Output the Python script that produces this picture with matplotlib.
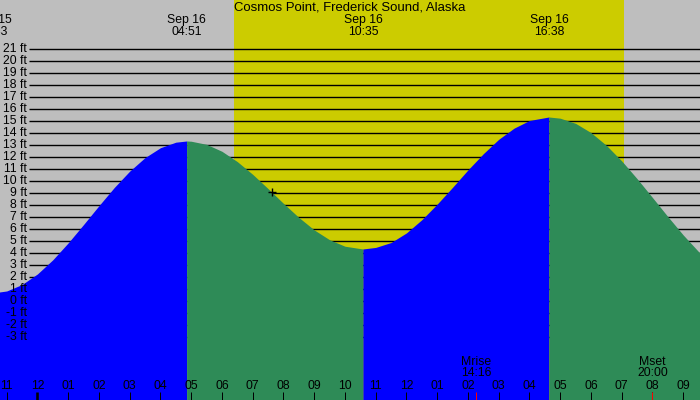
import matplotlib
matplotlib.use("Agg")
from matplotlib import pyplot as plt
import matplotlib.transforms as mtransforms

plt.rcParams['font.family'] = ['Liberation Sans', 'DejaVu Sans']

# tide extremes (hours after Sep 16 00:00), heights in ft
extreme_hours = [-1.45, 4.85, 10.583, 16.633, 23.6]
extreme_ft = [0.7, 13.36, 4.36, 15.36, 1.2]
extreme_dates = ["Sep 15", "Sep 16", "Sep 16", "Sep 16"]
extreme_times = ["22:33", "04:51", "10:35", "16:38"]

# tide height every half hour
sample_hours = [-1.5, -1.0, -0.5, 0.0, 0.5, 1.0, 1.5, 2.0, 2.5, 3.0, 3.5, 4.0, 4.5,
                5.0, 5.5, 6.0, 6.5, 7.0, 7.5, 8.0, 8.5, 9.0, 9.5, 10.0,
                11.0, 11.5, 12.0, 12.5, 13.0, 13.5, 14.0, 14.5, 15.0, 15.5, 16.0,
                17.0, 17.5, 18.0, 18.5, 19.0, 19.5, 20.0, 20.5, 21.0, 21.5, 22.0]
sample_ft = [0.71, 0.86, 1.40, 2.28, 3.46, 4.87, 6.40, 7.97, 9.49, 10.85, 11.98, 12.80, 13.26,
             13.34, 13.08, 12.50, 11.64, 10.58, 9.39, 8.16, 6.99, 5.95, 5.13, 4.59,
             4.49, 4.90, 5.70, 6.80, 8.10, 9.50, 10.95, 12.30, 13.50, 14.43, 15.07,
             15.26, 14.83, 14.06, 13.00, 11.70, 10.22, 8.65, 7.06, 5.53, 4.14, 2.97]

sunrise_hour = 6.38
sunset_hour = 19.09
now_hour, now_ft = 7.636, 9.08

moon_events = ["Mrise", "Mset"]
moon_hours = [14.267, 20.0]
moon_times = ["14:16", "20:00"]

hour_ticks = list(range(-1, 22))
hour_labels = ["%02d" % ((h % 12) or 12) for h in hour_ticks]
ft_levels = list(range(-3, 22))

title = "Cosmos Point, Frederick Sound, Alaska"

# layout: 30.75 px per hour, 12 px per ft
px_hour = 30.75
x_left = -1.218
x_right = x_left + 700 / px_hour
y_bottom, y_top = -8.225, 25.11

fig = plt.figure(figsize=(7, 4), dpi=100)
fig.patch.set_facecolor('#bebebe')
ax = fig.add_axes([0, 0, 1, 1])
ax.axis('off')
ax.set_xlim(x_left, x_right)
ax.set_ylim(y_bottom, y_top)

ax.axvspan(sunrise_hour, sunset_hour, color='#cccc00', lw=0, zorder=1)
ax.hlines(ft_levels, x_left + 29 / px_hour, x_right, color='black', lw=1, zorder=2)

# merge samples with the extremes and fill each rise / fall in its colour
pts = sorted(zip(sample_hours + extreme_hours, sample_ft + extreme_ft))
for i in range(len(extreme_hours) - 1):
    t0, t1 = extreme_hours[i], extreme_hours[i + 1]
    seg = [p for p in pts if t0 <= p[0] <= t1]
    if i == 0:
        seg = [p for p in pts if p[0] <= t1]
    xs = [p[0] for p in seg]
    ys = [p[1] for p in seg]
    colour = '#0000ff' if extreme_ft[i + 1] > extreme_ft[i] else '#2e8b57'
    ax.fill_between(xs, ys, y_bottom - 1, color=colour, lw=0, zorder=3)

ax.plot(now_hour, now_ft, marker='+', color='black', ms=6, mew=1, zorder=5)

fs = 8.8
for v in ft_levels:
    ax.text(x_left + 27 / px_hour, v, "%d ft" % v, ha='right', va='center',
            fontsize=fs, zorder=6)

trans = mtransforms.blended_transform_factory(ax.transData, ax.transAxes)
ax.text(0.5, 0.981, title, transform=ax.transAxes, ha='center', va='center', fontsize=9.45)
for h, d, tm in zip(extreme_hours, extreme_dates, extreme_times):
    ax.text(h, 0.95, d, transform=trans, ha='center', va='center', fontsize=fs)
    ax.text(h, 0.921, tm, transform=trans, ha='center', va='center', fontsize=fs)

for h, lab in zip(hour_ticks, hour_labels):
    lw = 2.6 if h % 24 == 0 else 1
    ax.plot([h, h], [0, 0.02], transform=trans, color='black', lw=lw * 0.72,
            solid_capstyle='butt', zorder=6)
    ax.text(h, 0.035, lab, transform=trans, ha='center', va='center', fontsize=fs, zorder=6)

for ev, h, tm in zip(moon_events, moon_hours, moon_times):
    ax.plot([h, h], [0, 0.02], transform=trans, color='red', lw=0.72,
            solid_capstyle='butt', zorder=7)
    ax.text(h, 0.0957, ev, transform=trans, ha='center', va='center', fontsize=fs, zorder=6)
    ax.text(h, 0.0667, tm, transform=trans, ha='center', va='center', fontsize=fs, zorder=6)

fig.savefig('out.png', dpi=100, facecolor=fig.get_facecolor())
